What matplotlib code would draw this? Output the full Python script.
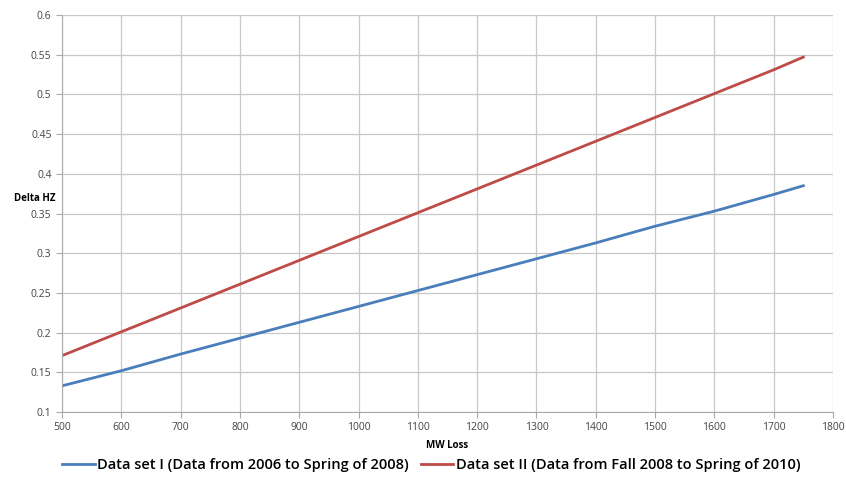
import matplotlib
matplotlib.use("Agg")
import matplotlib.pyplot as plt

# данные
mw_loss = [500, 600, 700, 800, 900, 1000, 1100, 1200, 1300, 1400, 1500, 1600, 1700, 1750]
set1 = [0.133, 0.152, 0.173, 0.193, 0.213, 0.233, 0.253, 0.273, 0.293, 0.313, 0.334, 0.353, 0.374, 0.385]
set2 = [0.171, 0.201, 0.231, 0.261, 0.291, 0.321, 0.351, 0.381, 0.411, 0.441, 0.471, 0.501, 0.531, 0.547]
x_ticks = list(range(500, 1801, 100))
y_ticks = [0.1, 0.15, 0.2, 0.25, 0.3, 0.35, 0.4, 0.45, 0.5, 0.55, 0.6]
label1 = 'Data set I (Data from 2006 to Spring of 2008)'
label2 = 'Data set II (Data from Fall 2008 to Spring of 2010)'

plt.rcParams['font.family'] = ['Open Sans', 'DejaVu Sans']

fig = plt.figure(figsize=(8.46, 4.78), dpi=100)
ax = fig.add_axes([0.0733, 0.138, 0.9113, 0.8306])

ax.plot(mw_loss, set1, color='#4a7ebb', lw=2, label=label1)
ax.plot(mw_loss, set2, color='#be4b48', lw=2, label=label2)

ax.set_xlim(500, 1800)
ax.set_ylim(0.1, 0.6)
ax.set_xticks(x_ticks)
ax.set_yticks(y_ticks)
ax.set_yticklabels([f'{v:g}' for v in y_ticks])
ax.tick_params(labelsize=7.5, labelcolor='#444444', color='#aaaaaa', length=4)
ax.grid(True, color='#c8c8c8', lw=0.9)
ax.set_axisbelow(True)
for s in ['top', 'right']:
    ax.spines[s].set_visible(False)
for s in ['left', 'bottom']:
    ax.spines[s].set_color('#aaaaaa')

ax.set_xlabel('MW Loss', fontsize=7, fontweight='bold', labelpad=5)
fig.text(0.041, 0.585, 'Delta HZ', fontsize=7, fontweight='bold', ha='center', va='center')

fig.legend(loc='center', bbox_to_anchor=(0.51, 0.027), ncol=2, frameon=False,
           prop={'size': 10.5, 'weight': 'semibold'},
           handlelength=2.2, handletextpad=0.2, columnspacing=0.8)

fig.savefig('out.png', dpi=100)
